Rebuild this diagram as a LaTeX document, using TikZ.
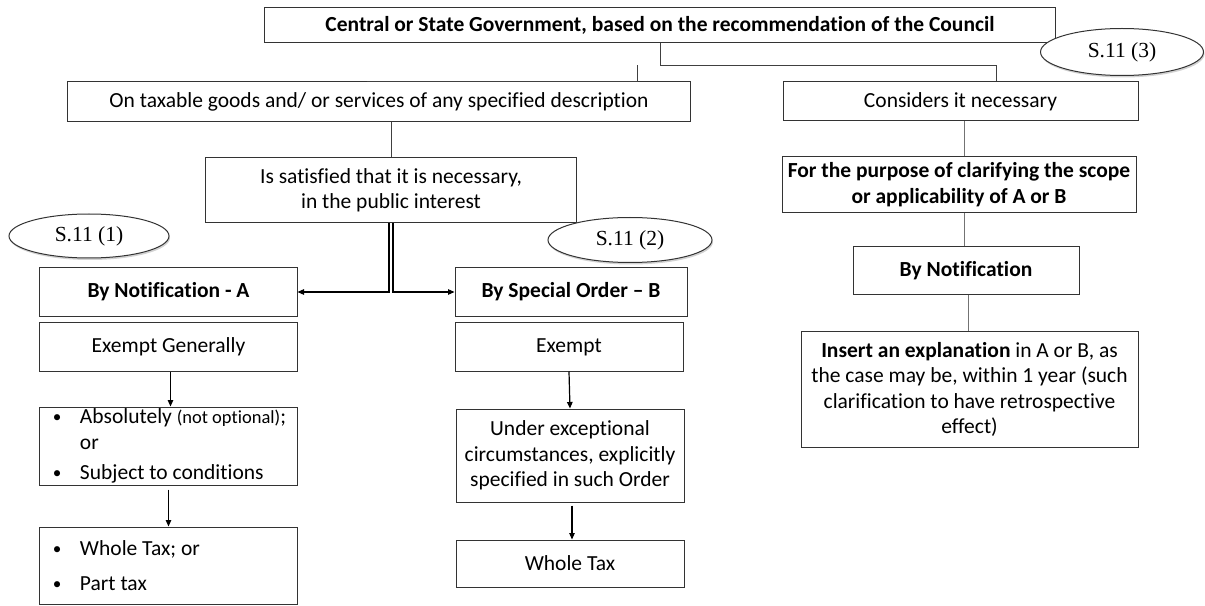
\documentclass[tikz,border=0pt]{standalone}
\usepackage{graphicx}
\usepackage{fontspec}
\setmainfont{Carlito}[Ligatures=NoCommon]
\newfontfamily\serifx{Liberation Serif}
\usetikzlibrary{arrows.meta,shapes.geometric,shadows}
\newcommand\fsz{\fontsize{21.5bp}{25.5bp}\selectfont}
\newcommand\fsmall{\fontsize{18.5bp}{20bp}\selectfont}
\newcommand\blt{\makebox[27bp][l]{\raisebox{1bp}{\scalebox{0.8}{\textbullet}}}}
\begin{document}
\begin{tikzpicture}[x=1bp,y=-1bp,
 box/.style={draw=black!80, line width=1bp, fill=white, align=center, inner xsep=0pt, inner ysep=0pt, font=\fsz},
 bbox/.style={box, font=\fsz\bfseries},
 lbl/.style={ellipse, draw=black!80, line width=1bp, fill=white, inner sep=0pt, font=\serifx\fontsize{21.5bp}{24bp}\selectfont, drop shadow={opacity=0.35, shadow xshift=1bp, shadow yshift=-2bp}},
 conn/.style={draw=black!75, line width=0.9bp},
 gconn/.style={draw=black!55, line width=1bp},
 arr/.style={draw=black, line width=1.2bp, -{Triangle[length=6.5bp,width=5.5bp]}},
]
\useasboundingbox (0,0) rectangle (1205,606);
\fill[white] (0,0) rectangle (1205,606);

% top
\node[bbox, minimum width=790bp, minimum height=35bp] (top) at (660,25.5) {Central or State Government, based on the recommendation of the Council};
\node[box, minimum width=622bp, minimum height=40bp] (tax) at (379,102) {On taxable goods and/ or services of any specified description};
\node[box, minimum width=355bp, minimum height=39bp] (cons) at (960.5,101.5) {Considers it necessary};

% middle
\node[box, minimum width=370bp, minimum height=65bp] (sat) at (391,190.5) {Is satisfied that it is necessary,\\in the public interest};
\node[bbox, minimum width=354bp, minimum height=56bp] (purp) at (959,184.5) {For the purpose of clarifying the scope\\or applicability of A or B};
\node[bbox, minimum width=226bp, minimum height=47bp] (bynot) at (966,270.5) {By Notification};
\node[box, minimum width=337bp, minimum height=115bp] (ins) at (969.5,389.5) {{\bfseries Insert an explanation} in A or B, as\\the case may be, within 1 year (such\\clarification to have retrospective\\effect)};

% left column
\node[bbox, minimum width=257bp, minimum height=48bp] (A) at (168.5,292) {By Notification - A};
\node[box, minimum width=257bp, minimum height=48bp] (exA) at (168.5,347) {Exempt Generally};
\node[box, minimum width=257bp, minimum height=78bp, text width=257bp, align=flush left] (absA) at (168.5,446) {\hspace*{13bp}\blt Absolutely {\fsmall(not optional)};\\\hspace*{40bp}or\\[5bp]\hspace*{13bp}\blt Subject to conditions};
\node[box, minimum width=257bp, minimum height=77bp, text width=257bp, align=flush left] (wtA) at (168.5,565.5) {\hspace*{13bp}\blt Whole Tax; or\\[10bp]\hspace*{13bp}\blt Part tax};

% middle column
\node[bbox, minimum width=232bp, minimum height=48bp] (B) at (571,292) {By Special Order – B};
\node[box, minimum width=228bp, minimum height=48bp] (exB) at (569,347) {Exempt};
\node[box, minimum width=228bp, minimum height=93bp] (uecB) at (570,455.5) {Under exceptional\\circumstances, explicitly\\specified in such Order};
\node[box, minimum width=228bp, minimum height=47bp] (wtB) at (570,563.5) {Whole Tax};

% labels
\node[lbl, minimum width=160bp, minimum height=44bp] (e1) at (89,236) {S.11 (1)};
\node[lbl, minimum width=164bp, minimum height=45bp] (e2) at (630,240) {S.11 (2)};
\node[lbl, minimum width=163bp, minimum height=47bp] (e3) at (1122,52) {S.11 (3)};

% connectors top
\draw[conn] (top.south) -- ++(0,22) -| ([xshift=36bp]cons.north);
\draw[conn] ([xshift=-23bp,yshift=-22bp]top.south) |- ([xshift=-12bp]tax.north);
\draw[conn] (tax.south -| sat.north) -- (sat.north);
\draw[gconn] ([xshift=3.5bp]cons.south) -- ([xshift=3.5bp]cons.south |- purp.north);
\draw[gconn] ([xshift=5bp]purp.south) -- ([xshift=5bp]purp.south |- bynot.north);
\draw[gconn] ([xshift=2bp]bynot.south) -- ([xshift=2bp]bynot.south |- ins.north);

% double split arrows
\draw[arr] ([xshift=-2bp]sat.south) |- (A.east);
\draw[arr] ([xshift=2bp]sat.south) |- (B.west);

% column arrows
\draw[arr] ([xshift=2bp]exA.south) -- ([xshift=2bp]absA.north);
\draw[arr] ([yshift=-4bp]absA.south) -- (wtA.north);
\draw[arr] (exB.south) -- (uecB.north);
\draw[arr] ([xshift=2bp,yshift=-3bp]uecB.south) -- ([xshift=2bp]wtB.north);
\end{tikzpicture}
\end{document}
